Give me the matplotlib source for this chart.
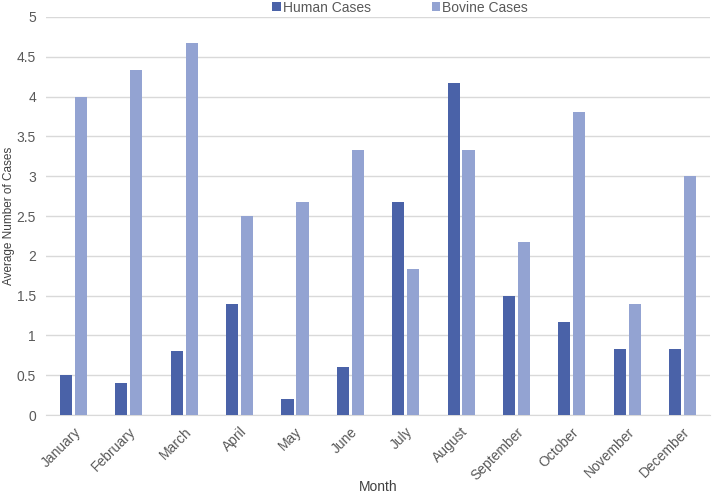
import numpy as np
import matplotlib.pyplot as plt

plt.rcParams['font.family'] = ['Liberation Sans', 'DejaVu Sans']

months = ['January', 'February', 'March', 'April', 'May', 'June', 'July',
          'August', 'September', 'October', 'November', 'December']
human = [0.5, 0.4, 0.8, 1.4, 0.2, 0.6, 2.67, 4.17, 1.5, 1.17, 0.83, 0.83]
bovine = [4.0, 4.33, 4.67, 2.5, 2.67, 3.33, 1.83, 3.33, 2.17, 3.8, 1.4, 3.0]

fig = plt.figure(figsize=(7.16, 4.96), dpi=100)
ax = fig.add_axes([0.064, 0.163, 0.928, 0.803])

x = np.arange(len(months))
w = 0.22
ax.bar(x - 0.135, human, width=w, color='#4a62a8', label='Human Cases', zorder=3)
ax.bar(x + 0.135, bovine, width=w, color='#93a3d2', label='Bovine Cases', zorder=3)

ax.set_xlim(-0.5, len(months) - 0.5)
ax.set_ylim(0, 5)
ax.set_yticks(np.arange(0, 5.01, 0.5))
ax.set_yticklabels(['0', '0.5', '1', '1.5', '2', '2.5', '3', '3.5', '4', '4.5', '5'])
ax.grid(axis='y', color='#d9d9d9', linewidth=1, zorder=0)
ax.set_xticks(x)
ax.set_xticklabels(months, rotation=45, ha='right', rotation_mode='anchor')
ax.tick_params(axis='both', length=0, labelsize=10, colors='#595959')
ax.tick_params(axis='x', pad=7)
ax.tick_params(axis='y', pad=7)
for s in ['top', 'right', 'left']:
    ax.spines[s].set_visible(False)
ax.spines['bottom'].set_color('#d9d9d9')

ax.set_xlabel('Month', fontsize=10, color='#404040')
ax.xaxis.set_label_coords(0.5, -0.162)
ax.set_ylabel('Average Number of Cases', fontsize=8.5, color='#404040')
ax.yaxis.set_label_coords(-0.047, 0.5)

fig.legend(loc='upper center', bbox_to_anchor=(0.559, 1.024), ncol=2, frameon=False,
           fontsize=10, handlelength=0.6, handleheight=0.6, columnspacing=4.4,
           handletextpad=0.15, labelcolor='#595959')

fig.savefig('out.png', dpi=100)
